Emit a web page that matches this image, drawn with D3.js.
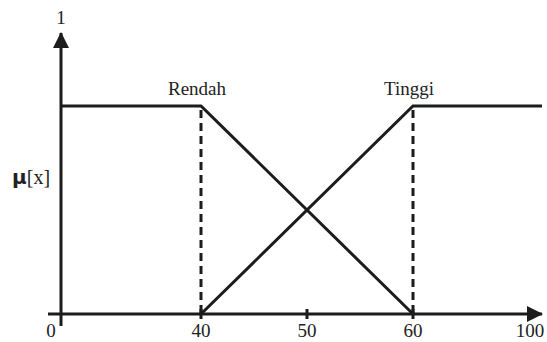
<!DOCTYPE html>
<html>
<head>
<meta charset="utf-8">
<script src="https://cdn.jsdelivr.net/npm/d3@7"></script>
<style>
	body { margin: 0; background: #fff; }
	text { font-family: 'Liberation Serif', 'Times New Roman', serif; fill: #222; }
</style>
</head>
<body>
<svg width="547" height="342"></svg>
<script>
// Membership function data (fuzzy sets Rendah / Tinggi)
const xTicks = [0, 40, 50, 60, 100];
const rendah = [[0, 1], [40, 1], [60, 0]];
const tinggi = [[40, 0], [60, 1], [102, 1]];
const breakPoints = [40, 60];
const setLabels = [
	{ name: 'Rendah', x: 40 },
	{ name: 'Tinggi', x: 60 },
];

const svg = d3.select('svg');
const ink = '#1c1c1c';

// schematic axis: not evenly spaced, so piecewise scale
const x = d3.scaleLinear().domain([0, 40, 60, 100, 102]).range([61, 201, 413, 530, 542]);
const y = d3.scaleLinear().domain([0, 1]).range([314, 106]);

// arrow heads
const defs = svg.append('defs');
defs.append('marker')
	.attr('id', 'arrow')
	.attr('viewBox', '0 0 16 16')
	.attr('refX', 15)
	.attr('refY', 8)
	.attr('markerWidth', 16)
	.attr('markerHeight', 16)
	.attr('markerUnits', 'userSpaceOnUse')
	.attr('orient', 'auto')
	.append('path')
	.attr('d', 'M0,0 L16,8 L0,16 Z')
	.attr('fill', ink);

// x axis
svg.append('line')
	.attr('x1', 48).attr('x2', 542)
	.attr('y1', y(0)).attr('y2', y(0))
	.attr('stroke', ink).attr('stroke-width', 3)
	.attr('marker-end', 'url(#arrow)');

// y axis
svg.append('line')
	.attr('x1', x(0)).attr('x2', x(0))
	.attr('y1', 326).attr('y2', 33)
	.attr('stroke', ink).attr('stroke-width', 3)
	.attr('marker-end', 'url(#arrow)');

// tick marks
svg.selectAll('.tick')
	.data(xTicks.filter((d) => d > 0 && d < 100))
	.join('line')
	.attr('class', 'tick')
	.attr('x1', (d) => x(d)).attr('x2', (d) => x(d))
	.attr('y1', y(0) - 5).attr('y2', y(0) + 5)
	.attr('stroke', ink).attr('stroke-width', 3);

// tick labels
svg.selectAll('.tlabel')
	.data(xTicks)
	.join('text')
	.attr('class', 'tlabel')
	.attr('x', (d) => (d === 0 ? x(d) - 10 : x(d)))
	.attr('y', 337)
	.attr('text-anchor', 'middle')
	.attr('font-size', 19)
	.text((d) => d);

// dashed guides
svg.selectAll('.guide')
	.data(breakPoints)
	.join('line')
	.attr('class', 'guide')
	.attr('x1', (d) => x(d)).attr('x2', (d) => x(d))
	.attr('y1', y(1) + 4).attr('y2', y(0))
	.attr('stroke', ink).attr('stroke-width', 3)
	.attr('stroke-dasharray', '8,5');

const line = d3.line().x((d) => x(d[0])).y((d) => y(d[1]));

svg.selectAll('.mf')
	.data([rendah, tinggi])
	.join('path')
	.attr('class', 'mf')
	.attr('d', line)
	.attr('fill', 'none')
	.attr('stroke', ink)
	.attr('stroke-width', 3);

// set labels
svg.selectAll('.setlabel')
	.data(setLabels)
	.join('text')
	.attr('class', 'setlabel')
	.attr('x', (d) => x(d.x) - 4)
	.attr('y', 95)
	.attr('text-anchor', 'middle')
	.attr('font-size', 19)
	.text((d) => d.name);

// y label and top value
svg.append('text')
	.attr('x', x(0))
	.attr('y', 24)
	.attr('text-anchor', 'middle')
	.attr('font-size', 19)
	.text('1');

const yl = svg.append('text').attr('x', 12).attr('y', 184);
yl.append('tspan')
	.style('font-family', "'DejaVu Sans', sans-serif")
	.attr('font-weight', 'bold')
	.attr('font-size', 20)
	.text('μ');
yl.append('tspan')
	.attr('font-size', 20)
	.text('[x]');
</script>
</body>
</html>
